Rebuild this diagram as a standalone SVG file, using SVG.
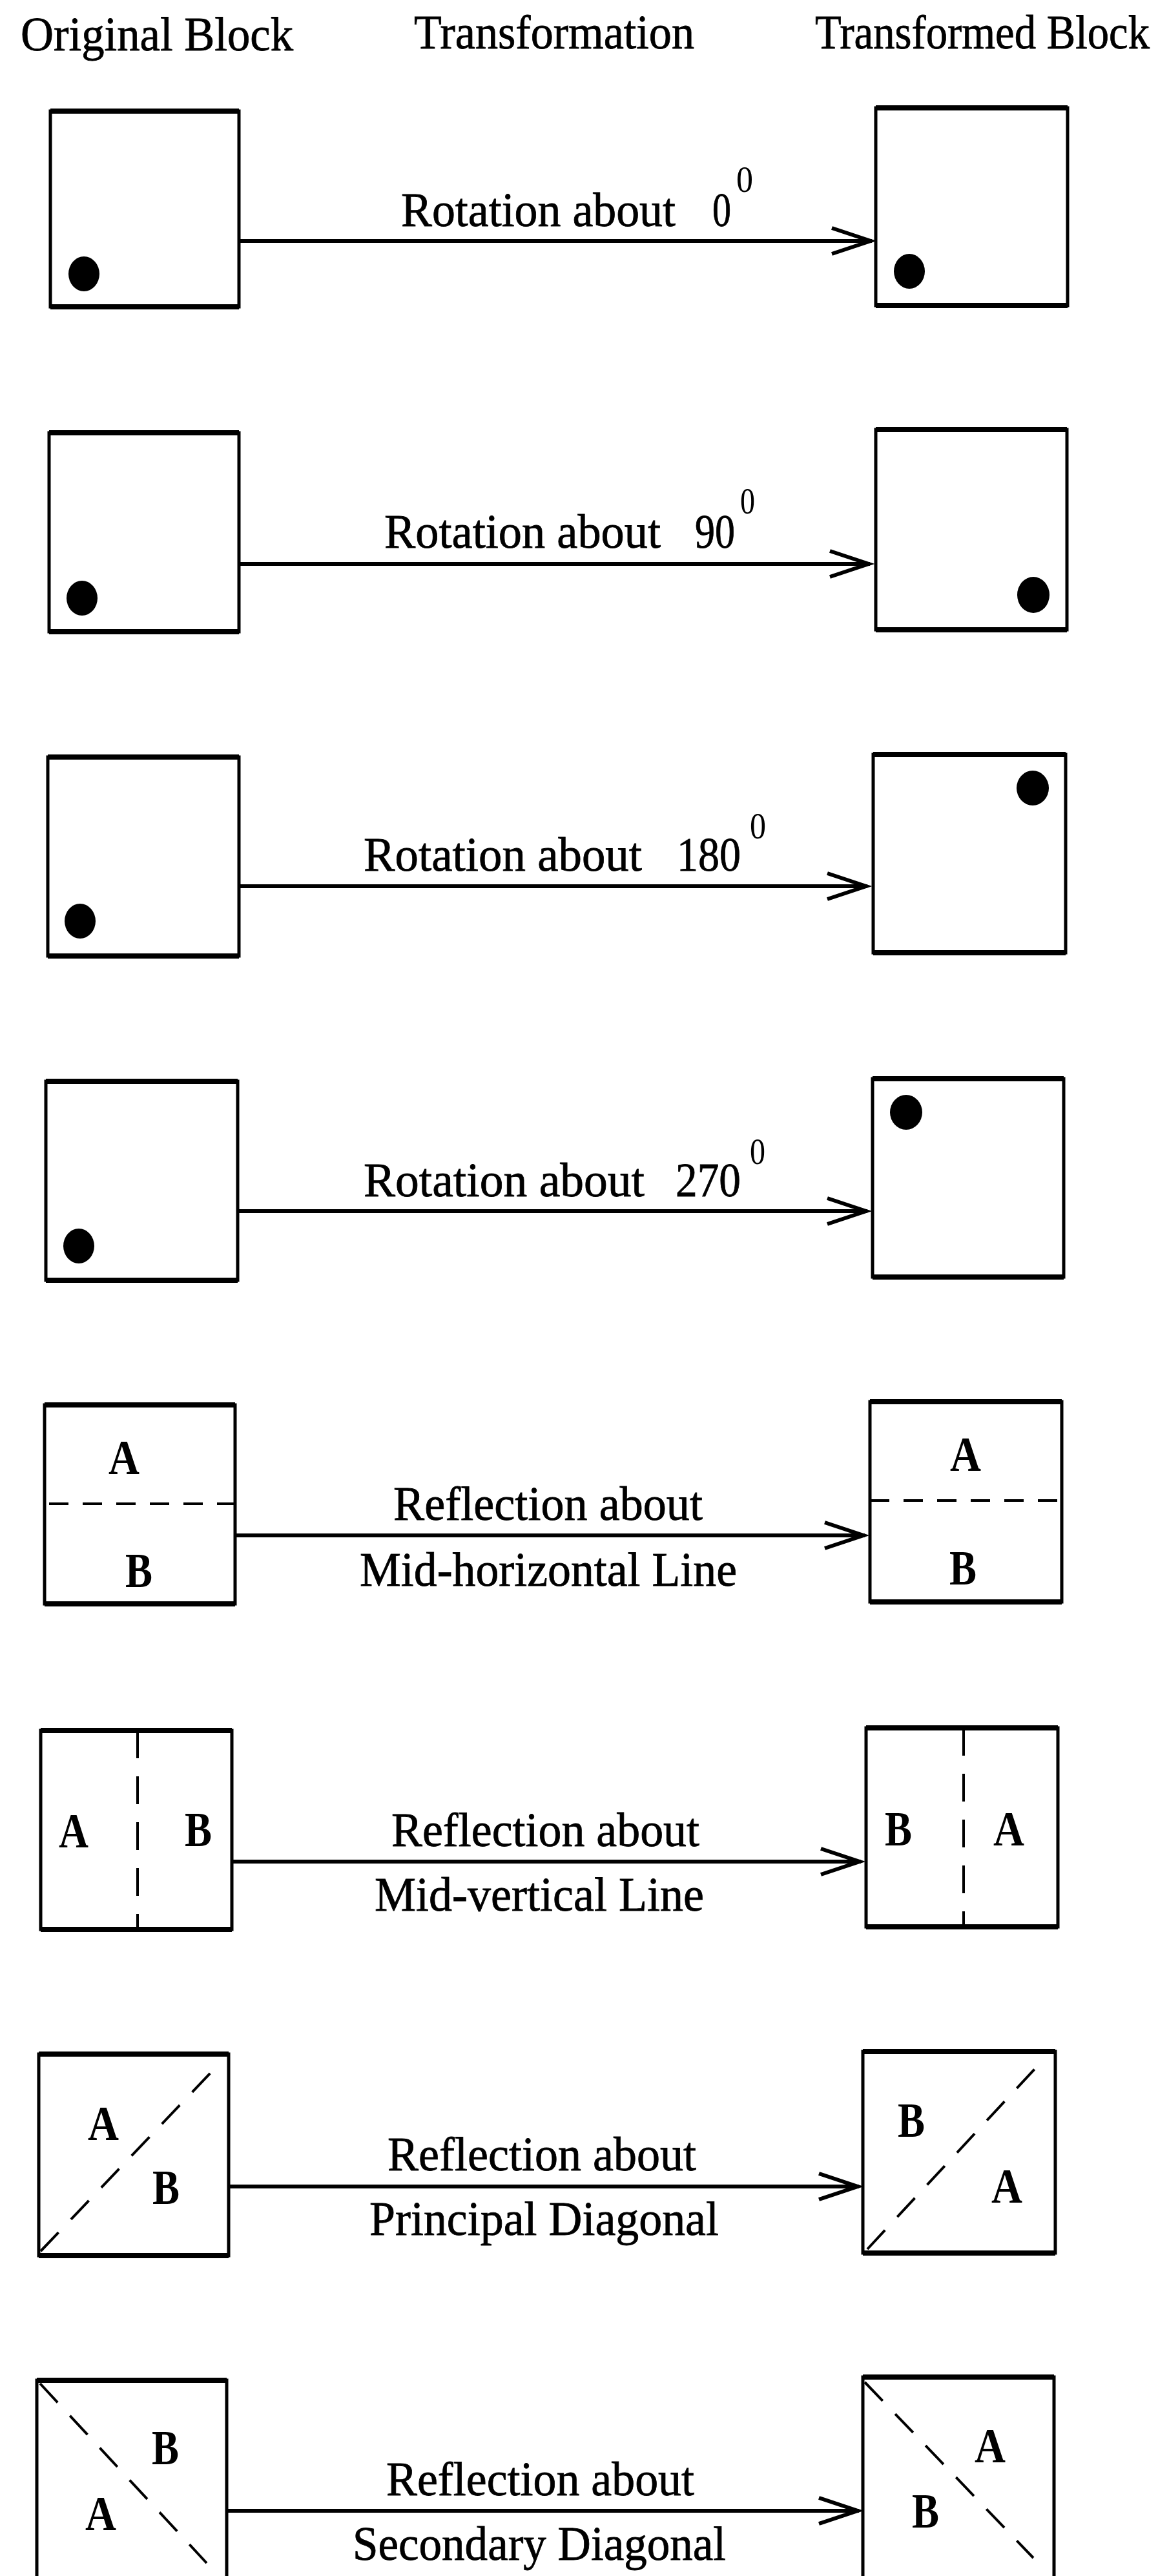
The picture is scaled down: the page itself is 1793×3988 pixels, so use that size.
<svg xmlns="http://www.w3.org/2000/svg" width="1793" height="3988" viewBox="0 0 1793 3988">
<style>
.box{fill:none;stroke:#000;stroke-width:5}
.edge{stroke:#000;stroke-width:8;fill:none}
.dot{fill:#000}
.dash{stroke:#000;stroke-width:4;fill:none}
.t{font-family:"Liberation Serif","Times New Roman",serif;font-size:75px;fill:#000;stroke:#000;stroke-width:0.8}
.sup{font-family:"Liberation Serif","Times New Roman",serif;font-size:58px;fill:#000}
.l{font-family:"Liberation Serif","Times New Roman",serif;font-size:76px;font-weight:bold;fill:#000;text-anchor:middle}
.arr{stroke:#000;stroke-width:6;fill:none}
</style>
<defs>
<marker id="ah" markerUnits="userSpaceOnUse" markerWidth="80" markerHeight="60" refX="66" refY="25" orient="auto">
<polyline points="4,5 64,25 4,45" fill="none" stroke="#000" stroke-width="6"/>
</marker>
</defs>
<rect width="1793" height="3988" fill="#fff"/>

<g id="headers">
<text class="t" x="32" y="78" textLength="422" lengthAdjust="spacingAndGlyphs">Original Block</text>
<text class="t" x="641" y="75" textLength="434" lengthAdjust="spacingAndGlyphs">Transformation</text>
<text class="t" x="1262" y="75" textLength="518" lengthAdjust="spacingAndGlyphs">Transformed Block</text>
</g>

<g id="r1-orig"><rect class="box" x="78" y="172" width="292" height="303"/><line class="edge" x1="78" y1="172" x2="370" y2="172"/><line class="edge" x1="78" y1="475" x2="370" y2="475"/><ellipse class="dot" cx="130" cy="424" rx="24" ry="27"/></g>
<g id="r1-trans"><rect class="box" x="1356" y="167" width="297" height="306"/><line class="edge" x1="1356" y1="167" x2="1653" y2="167"/><line class="edge" x1="1356" y1="473" x2="1653" y2="473"/><ellipse class="dot" cx="1408" cy="420" rx="24" ry="27"/></g>

<g id="r2-orig"><rect class="box" x="76" y="670" width="294" height="308"/><line class="edge" x1="76" y1="670" x2="370" y2="670"/><line class="edge" x1="76" y1="978" x2="370" y2="978"/><ellipse class="dot" cx="127" cy="926" rx="24" ry="27"/></g>
<g id="r2-trans"><rect class="box" x="1356" y="665" width="296" height="310"/><line class="edge" x1="1356" y1="665" x2="1652" y2="665"/><line class="edge" x1="1356" y1="975" x2="1652" y2="975"/><ellipse class="dot" cx="1600" cy="921" rx="25" ry="28"/></g>

<g id="r3-orig"><rect class="box" x="74" y="1172" width="296" height="308"/><line class="edge" x1="74" y1="1172" x2="370" y2="1172"/><line class="edge" x1="74" y1="1480" x2="370" y2="1480"/><ellipse class="dot" cx="124" cy="1426" rx="24" ry="27"/></g>
<g id="r3-trans"><rect class="box" x="1352" y="1168" width="298" height="307"/><line class="edge" x1="1352" y1="1168" x2="1650" y2="1168"/><line class="edge" x1="1352" y1="1475" x2="1650" y2="1475"/><ellipse class="dot" cx="1599" cy="1220" rx="25" ry="27"/></g>

<g id="r4-orig"><rect class="box" x="71" y="1674" width="297" height="308"/><line class="edge" x1="71" y1="1674" x2="368" y2="1674"/><line class="edge" x1="71" y1="1982" x2="368" y2="1982"/><ellipse class="dot" cx="122" cy="1929" rx="24" ry="27"/></g>
<g id="r4-trans"><rect class="box" x="1351" y="1670" width="296" height="307"/><line class="edge" x1="1351" y1="1670" x2="1647" y2="1670"/><line class="edge" x1="1351" y1="1977" x2="1647" y2="1977"/><ellipse class="dot" cx="1403" cy="1722" rx="25" ry="27"/></g>

<g id="r5-orig"><rect class="box" x="69" y="2175" width="295" height="308"/><line class="edge" x1="69" y1="2175" x2="364" y2="2175"/><line class="edge" x1="69" y1="2483" x2="364" y2="2483"/><line class="dash" x1="76" y1="2328" x2="364" y2="2328" stroke-dasharray="30 22"/><text class="l" x="192" y="2282" textLength="48" lengthAdjust="spacingAndGlyphs">A</text><text class="l" x="215" y="2457" textLength="42" lengthAdjust="spacingAndGlyphs">B</text></g>
<g id="r5-trans"><rect class="box" x="1347" y="2170" width="297" height="310"/><line class="edge" x1="1347" y1="2170" x2="1644" y2="2170"/><line class="edge" x1="1347" y1="2480" x2="1644" y2="2480"/><line class="dash" x1="1347" y1="2323" x2="1644" y2="2323" stroke-dasharray="30 22"/><text class="l" x="1495" y="2277" textLength="48" lengthAdjust="spacingAndGlyphs">A</text><text class="l" x="1491" y="2453" textLength="42" lengthAdjust="spacingAndGlyphs">B</text></g>

<g id="r6-orig"><rect class="box" x="63" y="2679" width="296" height="308"/><line class="edge" x1="63" y1="2679" x2="359" y2="2679"/><line class="edge" x1="63" y1="2987" x2="359" y2="2987"/><line class="dash" x1="213" y1="2679" x2="213" y2="2987" stroke-dasharray="43 28"/><text class="l" x="114" y="2860" textLength="46" lengthAdjust="spacingAndGlyphs">A</text><text class="l" x="307" y="2858" textLength="42" lengthAdjust="spacingAndGlyphs">B</text></g>
<g id="r6-trans"><rect class="box" x="1341" y="2675" width="297" height="308"/><line class="edge" x1="1341" y1="2675" x2="1638" y2="2675"/><line class="edge" x1="1341" y1="2983" x2="1638" y2="2983"/><line class="dash" x1="1492" y1="2675" x2="1492" y2="2983" stroke-dasharray="43 28"/><text class="l" x="1391" y="2857" textLength="42" lengthAdjust="spacingAndGlyphs">B</text><text class="l" x="1562" y="2857" textLength="48" lengthAdjust="spacingAndGlyphs">A</text></g>

<g id="r7-orig"><rect class="box" x="60" y="3180" width="294" height="312"/><line class="edge" x1="60" y1="3180" x2="354" y2="3180"/><line class="edge" x1="60" y1="3492" x2="354" y2="3492"/><line class="dash" x1="63" y1="3485" x2="330" y2="3205" stroke-dasharray="40 28"/><text class="l" x="160" y="3313" textLength="48" lengthAdjust="spacingAndGlyphs">A</text><text class="l" x="257" y="3412" textLength="42" lengthAdjust="spacingAndGlyphs">B</text></g>
<g id="r7-trans"><rect class="box" x="1336" y="3176" width="298" height="312"/><line class="edge" x1="1336" y1="3176" x2="1634" y2="3176"/><line class="edge" x1="1336" y1="3488" x2="1634" y2="3488"/><line class="dash" x1="1343" y1="3482" x2="1605" y2="3200" stroke-dasharray="40 28"/><text class="l" x="1411" y="3308" textLength="42" lengthAdjust="spacingAndGlyphs">B</text><text class="l" x="1559" y="3410" textLength="48" lengthAdjust="spacingAndGlyphs">A</text></g>

<g id="r8-orig"><rect class="box" x="57" y="3685" width="294" height="320"/><line class="edge" x1="57" y1="3685" x2="351" y2="3685"/><line class="dash" x1="62" y1="3690" x2="320" y2="3968" stroke-dasharray="40 28"/><text class="l" x="256" y="3815" textLength="42" lengthAdjust="spacingAndGlyphs">B</text><text class="l" x="156" y="3917" textLength="48" lengthAdjust="spacingAndGlyphs">A</text></g>
<g id="r8-trans"><rect class="box" x="1336" y="3680" width="296" height="325"/><line class="edge" x1="1336" y1="3680" x2="1632" y2="3680"/><line class="dash" x1="1339" y1="3688" x2="1600" y2="3960" stroke-dasharray="40 28"/><text class="l" x="1533" y="3812" textLength="48" lengthAdjust="spacingAndGlyphs">A</text><text class="l" x="1433" y="3913" textLength="42" lengthAdjust="spacingAndGlyphs">B</text></g>

<g id="connectors">
<line class="arr" x1="370" y1="373" x2="1350" y2="373" marker-end="url(#ah)"/>
<line class="arr" x1="370" y1="873" x2="1347" y2="873" marker-end="url(#ah)"/>
<line class="arr" x1="370" y1="1372" x2="1343" y2="1372" marker-end="url(#ah)"/>
<line class="arr" x1="368" y1="1875" x2="1343" y2="1875" marker-end="url(#ah)"/>
<line class="arr" x1="364" y1="2377" x2="1339" y2="2377" marker-end="url(#ah)"/>
<line class="arr" x1="359" y1="2882" x2="1333" y2="2882" marker-end="url(#ah)"/>
<line class="arr" x1="354" y1="3385" x2="1330" y2="3385" marker-end="url(#ah)"/>
<line class="arr" x1="351" y1="3887" x2="1330" y2="3887" marker-end="url(#ah)"/>
</g>

<g id="labels">
<text class="t" x="621" y="350" textLength="425" lengthAdjust="spacingAndGlyphs">Rotation about</text>
<text class="t" x="1103" y="350" textLength="29" lengthAdjust="spacingAndGlyphs">0</text>
<text class="sup" x="1140" y="297" textLength="26" lengthAdjust="spacingAndGlyphs">0</text>

<text class="t" x="595" y="848" textLength="428" lengthAdjust="spacingAndGlyphs">Rotation about</text>
<text class="t" x="1076" y="848" textLength="62" lengthAdjust="spacingAndGlyphs">90</text>
<text class="sup" x="1146" y="795" textLength="23" lengthAdjust="spacingAndGlyphs">0</text>

<text class="t" x="563" y="1348" textLength="431" lengthAdjust="spacingAndGlyphs">Rotation about</text>
<text class="t" x="1048" y="1348" textLength="99" lengthAdjust="spacingAndGlyphs">180</text>
<text class="sup" x="1161" y="1298" textLength="25" lengthAdjust="spacingAndGlyphs">0</text>

<text class="t" x="563" y="1852" textLength="435" lengthAdjust="spacingAndGlyphs">Rotation about</text>
<text class="t" x="1046" y="1852" textLength="101" lengthAdjust="spacingAndGlyphs">270</text>
<text class="sup" x="1161" y="1802" textLength="24" lengthAdjust="spacingAndGlyphs">0</text>

<text class="t" x="609" y="2353" textLength="479" lengthAdjust="spacingAndGlyphs">Reflection about</text>
<text class="t" x="557" y="2455" textLength="584" lengthAdjust="spacingAndGlyphs">Mid-horizontal Line</text>

<text class="t" x="606" y="2858" textLength="477" lengthAdjust="spacingAndGlyphs">Reflection about</text>
<text class="t" x="580" y="2958" textLength="510" lengthAdjust="spacingAndGlyphs">Mid-vertical Line</text>

<text class="t" x="600" y="3360" textLength="478" lengthAdjust="spacingAndGlyphs">Reflection about</text>
<text class="t" x="572" y="3460" textLength="541" lengthAdjust="spacingAndGlyphs">Principal Diagonal</text>

<text class="t" x="598" y="3863" textLength="477" lengthAdjust="spacingAndGlyphs">Reflection about</text>
<text class="t" x="546" y="3963" textLength="578" lengthAdjust="spacingAndGlyphs">Secondary Diagonal</text>
</g>
</svg>
